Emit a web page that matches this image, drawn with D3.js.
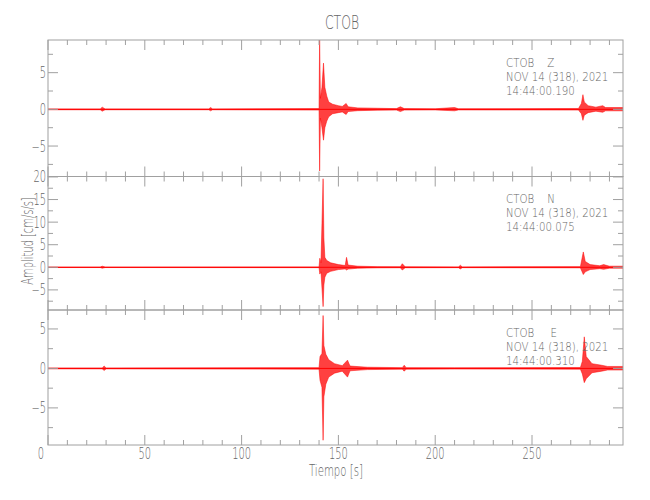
<!DOCTYPE html>
<html><head><meta charset="utf-8">
<script src="https://cdn.jsdelivr.net/npm/d3@7"></script>
<style>
body{margin:0;background:#fff;}
text{font-family:"DejaVu Sans","Liberation Sans",sans-serif;font-weight:200;fill:#666;white-space:pre;}
</style></head>
<body><svg id="c" width="650" height="500"></svg>
<script>
// ---- data ----
const title = "CTOB";
const xLabel = "Tiempo [s]";
const yLabel = "Amplitud [cm/s/s]";
const xTicksMajor = [0, 50, 100, 150, 200, 250];
const xDomain = [0, 297];

const panelNames = ["CTOB    Z", "CTOB    N", "CTOB     E"];
const panelDates = ["NOV 14 (318), 2021", "NOV 14 (318), 2021", "NOV 14 (318), 2021"];
const panelTimes = ["14:44:00.190", "14:44:00.075", "14:44:00.310"];
const panelYDomains = [[-9.15, 9.45], [-9.45, 20.1], [-9.7, 7.4]];
const panelYTicks = [[-5, 0, 5], [-5, 0, 5, 10, 15, 20], [-5, 0, 5]];

// envelope of each trace: time (s), upper and lower amplitude (cm/s/s)
const zTime = [0, 27, 28, 29.5, 83, 84, 85, 140.0, 140.3, 140.7, 141.5, 142.3, 143, 144, 145, 147, 150, 152, 154, 155, 160, 170, 180, 182, 184, 200, 210, 212, 274, 275.5, 276.3, 277, 279, 283, 286.5, 288, 297];
const zMax  = [0.06, 0.06, 0.3, 0.06, 0.06, 0.25, 0.06, 0.1, 9.6, 1.5, 3.0, 6.3, 3.0, 1.8, 1.0, 0.7, 0.5, 0.4, 0.8, 0.35, 0.2, 0.15, 0.1, 0.35, 0.1, 0.08, 0.25, 0.08, 0.12, 0.8, 2.0, 1.0, 0.5, 0.3, 0.5, 0.25, 0.25];
const zMin  = [-0.06, -0.06, -0.25, -0.06, -0.06, -0.2, -0.06, -0.1, -8.4, -1.2, -2.5, -4.2, -2.5, -1.6, -1.0, -0.6, -0.45, -0.35, -0.7, -0.3, -0.18, -0.12, -0.1, -0.3, -0.1, -0.08, -0.2, -0.08, -0.1, -0.6, -1.5, -0.8, -0.45, -0.25, -0.4, -0.2, -0.2];

const nTime = [0, 27, 28, 29.5, 140, 140.4, 141, 142.1, 142.5, 143, 144, 146, 150, 153.5, 154.2, 155, 160, 170, 182, 183, 184.5, 212, 213, 214, 275, 276.5, 277.5, 280, 285, 287, 290, 297];
const nMax  = [0.05, 0.05, 0.25, 0.05, 0.08, 2.0, 1.0, 19.6, 6.5, 2.2, 1.5, 1.0, 0.6, 0.4, 2.2, 0.5, 0.25, 0.15, 0.12, 0.8, 0.1, 0.08, 0.45, 0.08, 0.15, 3.4, 1.3, 0.6, 0.35, 0.6, 0.25, 0.25];
const nMin  = [-0.05, -0.05, -0.2, -0.05, -0.08, -1.5, -1.0, -8.7, -3.9, -2.2, -1.3, -0.9, -0.5, -0.35, -0.6, -0.4, -0.2, -0.12, -0.1, -0.6, -0.1, -0.08, -0.35, -0.08, -0.12, -1.6, -1.0, -0.5, -0.3, -0.45, -0.2, -0.2];

const eTime = [0, 28, 29, 30, 140, 140.5, 141.5, 142.1, 142.5, 143.5, 145, 148, 152, 154.7, 156, 165, 183, 184, 185, 210, 275, 276, 277, 278, 281, 286, 289, 297];
const eMax  = [0.06, 0.06, 0.3, 0.06, 0.1, 1.5, 1.9, 6.7, 2.9, 1.8, 1.1, 0.6, 0.35, 1.05, 0.3, 0.15, 0.1, 0.4, 0.1, 0.08, 0.12, 0.9, 4.0, 1.5, 0.6, 0.4, 0.25, 0.25];
const eMin  = [-0.06, -0.06, -0.25, -0.06, -0.1, -1.5, -2.4, -9.1, -3.6, -2.0, -1.1, -0.6, -0.35, -1.1, -0.3, -0.15, -0.1, -0.35, -0.1, -0.08, -0.1, -0.7, -1.8, -1.3, -0.55, -0.35, -0.2, -0.2];

const traces = [[zTime, zMax, zMin], [nTime, nMax, nMin], [eTime, eMax, eMin]];

// ---- layout ----
const svg = d3.select("#c");
const left = 48, right = 623;
const panelTops = [40, 176.5, 310];
const panelBottoms = [176.5, 310, 445];
const axisColor = "#a0a0a0";
const red = "#ff0000";

// narrow text helper (horizontal compression mimics the plotting font)
function label(parent, px, py, str, size, sx, anchor, rot) {
  return parent.append("text")
    .attr("transform", `translate(${px},${py})${rot ? ` rotate(${rot})` : ""} scale(${sx},1)`)
    .attr("text-anchor", anchor || "start")
    .style("font-size", size + "px").text(str);
}

const x = d3.scaleLinear().domain(xDomain).range([left, right]);
const xMinor = d3.range(0, 297, 10);

label(svg, 342, 29, title, 20, 0.62, "middle");

panelTops.forEach((top, i) => {
  const bottom = panelBottoms[i];
  const y = d3.scaleLinear().domain(panelYDomains[i]).range([bottom, top]);
  const g = svg.append("g");
  const cid = "clip" + i;
  svg.append("clipPath").attr("id", cid).append("rect")
    .attr("x", left).attr("y", top).attr("width", right - left).attr("height", bottom - top);

  // trace
  const [tt, mx, mn] = traces[i];
  const pts = tt.map((t, k) => ({t, hi: mx[k], lo: mn[k]}));
  const area = d3.area().x(d => x(d.t)).y0(d => y(d.lo)).y1(d => y(d.hi));
  g.append("path").datum(pts).attr("clip-path", `url(#${cid})`)
    .attr("d", area).attr("fill", red).attr("fill-opacity", 0.75)
    .attr("stroke", red).attr("stroke-width", 0.5);
  g.append("line").attr("x1", left).attr("x2", right).attr("y1", y(0)).attr("y2", y(0))
    .attr("stroke", red).attr("stroke-width", 1);

  // frame
  g.append("rect").attr("x", left).attr("y", top).attr("width", right - left).attr("height", bottom - top)
    .attr("fill", "none").attr("stroke", axisColor).attr("stroke-width", 1);

  // x ticks top and bottom (inward)
  xMinor.forEach(v => {
    const len = v % 50 === 0 ? 10 : 5;
    g.append("line").attr("x1", x(v)).attr("x2", x(v)).attr("y1", bottom).attr("y2", bottom - len).attr("stroke", axisColor);
    g.append("line").attr("x1", x(v)).attr("x2", x(v)).attr("y1", top).attr("y2", top + len).attr("stroke", axisColor);
  });
  // y ticks left and right (inward)
  const dom = panelYDomains[i];
  const yMinor = d3.range(Math.ceil(dom[0] / 2.5) * 2.5, dom[1] + 0.001, 2.5);
  yMinor.forEach(v => {
    const len = (Math.abs(v) % 5 < 1e-6) ? 10 : 5;
    g.append("line").attr("x1", left).attr("x2", left + len).attr("y1", y(v)).attr("y2", y(v)).attr("stroke", axisColor);
    g.append("line").attr("x1", right).attr("x2", right - len).attr("y1", y(v)).attr("y2", y(v)).attr("stroke", axisColor);
  });
  // y tick labels
  panelYTicks[i].forEach(v => {
    label(g, 46, y(v) + 5.5, v < 0 ? "\u2212" + Math.abs(v) : String(v), 15, 0.66, "end");
  });
  // station labels
  const lx = 506, ly = top + 26.5;
  [panelNames[i], panelDates[i], panelTimes[i]].forEach((s, k) => {
    label(g, lx, ly + k * 14, s, 12, 0.855, "start");
  });
});

// x tick labels
const xb = panelBottoms[2];
xTicksMajor.forEach(v => {
  label(svg, v === 0 ? x(v) - 7 : x(v), xb + 14, String(v), 15, 0.66, "middle");
});
label(svg, 336, 476, xLabel, 15, 0.68, "middle");
label(svg, 33, 241, yLabel, 15, 0.66, "middle", -90);
</script></body></html>
